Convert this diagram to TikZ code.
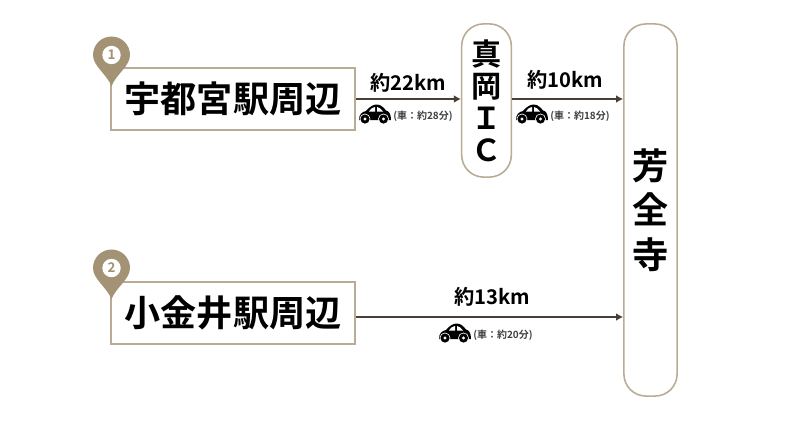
\documentclass[tikz,border=0pt]{standalone}
\usepackage{xcolor}
\usepackage{fontspec}
\usepackage{tikz}
\usetikzlibrary{arrows.meta}
\usetikzlibrary{calc}
\setmainfont{Noto Sans CJK JP}[BoldFont={* Bold}]
\setlength{\normallineskiplimit}{-100pt}
\setlength{\lineskiplimit}{-100pt}
\definecolor{pinbrown}{HTML}{A39274}
\definecolor{boxbrown}{HTML}{B9AB95}
\definecolor{linebrown}{HTML}{4A3F35}
\tikzset{
    placebox/.style={draw=boxbrown, line width=1.1pt, fill=white, minimum width=6.1cm, minimum height=1.55cm, inner sep=0pt, font=\bfseries\fontsize{25.7}{28}\selectfont},
    tallbox/.style={draw=boxbrown, line width=1.1pt, fill=white, rounded corners=0.55cm, inner sep=0pt, align=center},
    route/.style={draw=linebrown, line width=1pt, -{Latex[length=5pt,width=5.5pt]}},
    dist/.style={font=\bfseries\fontsize{14.4}{16}\selectfont},
    mins/.style={font=\bfseries\fontsize{7.1}{8}\selectfont, text=black!75, inner sep=0pt, anchor=west},
    car/.pic={
        \fill[black] (-16,7) .. controls (-16,1) and (-13,-1) .. (-9,-2) .. controls (-5,-7) and (-1,-8.5) .. (2,-8.5) .. controls (6,-8.5) and (9,-5) .. (11,-2.5) .. controls (14,-2) and (16,1) .. (16,7) -- cycle;
        \fill[white] (-6,-1.5) .. controls (-4,-4.5) and (-2,-6) .. (0,-6) -- (0,-1.5) -- cycle;
        \fill[white] (2,-6) .. controls (4,-6) and (6,-4) .. (8,-1.5) -- (2,-1.5) -- cycle;
        \foreach \wx in {-10,8.5} {
            \fill[white] (\wx,6) circle[radius=5.4];
            \fill[black] (\wx,6) circle[radius=4.6];
            \fill[white] (\wx,6) circle[radius=1.7];
        }
    },
    pin/.pic={
        \fill[pinbrown] (0,31) .. controls (-5,19) and (-18.5,11) .. (-18.5,0) arc[start angle=180, end angle=360, radius=18.5] .. controls (18.5,11) and (5,19) .. (0,31) -- cycle;
        \node[circle, fill=white, minimum size=0.46cm, inner sep=0pt, text=pinbrown, font=\bfseries\fontsize{9.5}{10}\selectfont] (-num) at (0,0) {#1};
    }
}

\begin{document}
\begin{tikzpicture}[x=0.025cm, y=-0.025cm]
    \useasboundingbox (0,0) rectangle (800,420);
    \fill[white] (0,0) rectangle (800,420);

    \node[placebox] (utsunomiya) at (233,99) {宇都宮駅周辺};
    \node[placebox] (koganei) at (233,313) {小金井駅周辺};
    \node[tallbox, minimum width=1.24cm, minimum height=3.83cm, font=\bfseries\fontsize{21.5}{22.8}\selectfont] (moka) at (486.5,100.5) {真\\岡\\Ｉ\\Ｃ};
    \node[tallbox, minimum width=1.33cm, minimum height=9.3cm, font=\bfseries\fontsize{25.7}{31.6}\selectfont] (temple) at (650.5,210) {芳\\全\\寺};

    \pic (pinA) at (111.5,55) {pin=1};
    \pic (pinB) at (111.5,268) {pin=2};

    \draw[route] (utsunomiya.east) -- (moka.west |- utsunomiya.east);
    \draw[route] (moka.east |- utsunomiya.east) -- (temple.west |- utsunomiya.east);
    \draw[route] (koganei.east |- 0,317) -- (temple.west |- 0,317);

    \node[dist] (distA) at (408,83) {約22km};
    \node[dist] (distB) at (565,80) {約10km};
    \node[dist] (distC) at (492,297) {約13km};

    \pic at (375,113) {car};
    \pic at (532,113) {car};
    \pic at (455,332) {car};

    \node[mins] (minsA) at (393,116) {(車：約28分)};
    \node[mins] (minsB) at (550,116) {(車：約18分)};
    \node[mins] (minsC) at (473,335) {(車：約20分)};
\end{tikzpicture}
\end{document}
